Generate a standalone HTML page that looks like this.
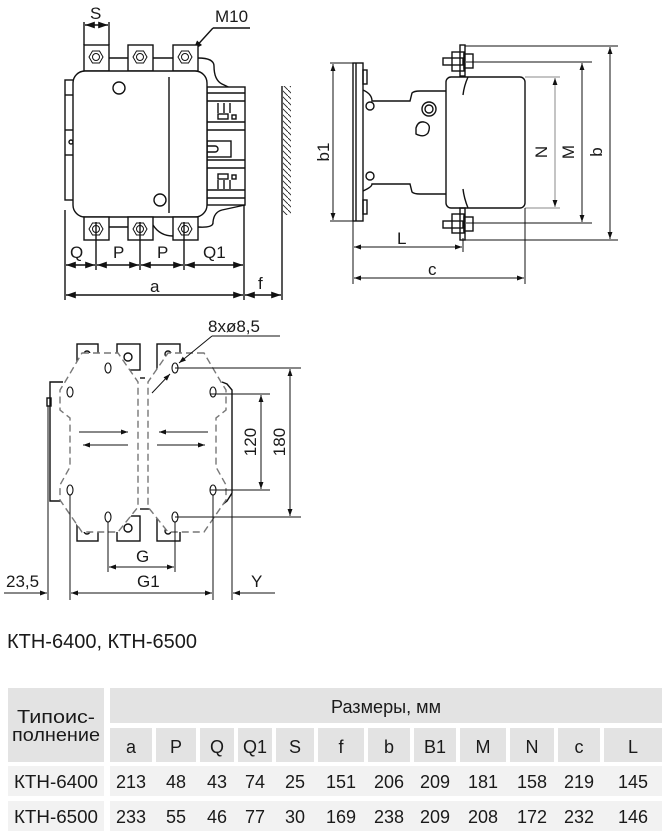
<!DOCTYPE html>
<html><head><meta charset="utf-8"><style>
html,body{margin:0;padding:0;background:#fff;width:664px;height:836px;overflow:hidden}
svg{display:block}
text{font-family:"Liberation Sans","DejaVu Sans",sans-serif;fill:#1a1a1a}
</style></head><body>
<svg width="664" height="836" viewBox="0 0 664 836" xmlns="http://www.w3.org/2000/svg">
<defs>
<marker id="ar" viewBox="0 0 10 10" refX="10" refY="5" markerWidth="7" markerHeight="7" orient="auto-start-reverse"><path d="M0,1.5 L10,5 L0,8.5 Z" fill="#111"/></marker>
<pattern id="hatch" width="6" height="6" patternUnits="userSpaceOnUse"><path d="M0,0 L6,6" stroke="#222" stroke-width="0.9"/></pattern>
</defs>
<g fill="none" stroke="#111" stroke-width="1.4">
<!-- ===== TOP LEFT VIEW ===== -->
<line x1="84" y1="22" x2="84" y2="45"/><line x1="109" y1="22" x2="109" y2="45"/>
<line x1="85" y1="25" x2="108" y2="25" marker-start="url(#ar)" marker-end="url(#ar)"/>
<line x1="250" y1="28" x2="213" y2="28"/><line x1="213" y1="28" x2="193" y2="50" marker-end="url(#ar)"/>
<line x1="109" y1="58" x2="128" y2="58"/><line x1="153" y1="58" x2="173" y2="58"/>
<line x1="109" y1="227" x2="128" y2="227"/>
<path d="M198,58 Q214,58 214,66 Q214,80 222,84 L245,95"/>
<path d="M198,227 Q214,228 213,222 Q214,212 222,210 L245,205"/>
<path d="M153,225 Q160,236 173,236"/>
<rect x="84" y="45" width="25" height="26" fill="#fff"/>
<rect x="128" y="45" width="25" height="26" fill="#fff"/>
<rect x="173" y="45" width="25" height="26" fill="#fff"/>
<rect x="65" y="80" width="10" height="120" fill="#fff"/>
<line x1="65" y1="95" x2="75" y2="95"/><line x1="65" y1="130" x2="75" y2="130"/><line x1="65" y1="155" x2="75" y2="155"/>
<circle cx="71" cy="142" r="2"/>
<rect x="207" y="87" width="38" height="118" fill="#fff"/>
<line x1="207" y1="93" x2="245" y2="93"/><line x1="207" y1="101" x2="245" y2="101"/>
<line x1="207" y1="122" x2="245" y2="122"/><line x1="207" y1="130" x2="245" y2="130"/>
<line x1="207" y1="160" x2="245" y2="160"/><line x1="207" y1="168" x2="245" y2="168"/>
<line x1="207" y1="190" x2="245" y2="190"/><line x1="207" y1="198" x2="245" y2="198"/>
<rect x="207" y="141" width="24" height="16"/>
<path d="M207,146 h8 a3,3 0 0 1 0,6 h-8"/>
<rect x="218" y="114" width="10" height="5"/><rect x="232" y="115" width="4" height="4"/>
<rect x="218" y="174" width="10" height="5"/><rect x="232" y="175" width="4" height="4"/>
<line x1="218" y1="103" x2="218" y2="113"/><line x1="224" y1="103" x2="224" y2="113"/><line x1="230" y1="103" x2="230" y2="113"/>
<line x1="218" y1="180" x2="218" y2="189"/><line x1="224" y1="180" x2="224" y2="189"/><line x1="230" y1="180" x2="230" y2="189"/>
<rect x="73" y="71" width="134" height="146" rx="12" fill="#fff"/>
<circle cx="119" cy="88" r="6"/><circle cx="160" cy="200" r="6"/>
<line x1="169" y1="77" x2="169" y2="213"/>
<rect x="84" y="217" width="25" height="23" fill="#fff"/>
<rect x="128" y="217" width="25" height="23" fill="#fff"/>
<rect x="173" y="217" width="25" height="23" fill="#fff"/>
<g stroke-width="1">
<polygon points="89,57 92.5,51 99.5,51 103,57 99.5,63 92.5,63"/><circle cx="96" cy="57" r="3.5"/>
<polygon points="133,57 136.5,51 143.5,51 147,57 143.5,63 136.5,63"/><circle cx="140" cy="57" r="3.5"/>
<polygon points="178,57 181.5,51 188.5,51 192,57 188.5,63 181.5,63"/><circle cx="185" cy="57" r="3.5"/>
<polygon points="89,229 92.5,223 99.5,223 103,229 99.5,235 92.5,235"/><circle cx="96" cy="229" r="3.5"/>
<polygon points="133,229 136.5,223 143.5,223 147,229 143.5,235 136.5,235"/><circle cx="140" cy="229" r="3.5"/>
<polygon points="178,229 181.5,223 188.5,223 192,229 188.5,235 181.5,235"/><circle cx="185" cy="229" r="3.5"/>
</g>
<rect x="283" y="86" width="8" height="129" fill="url(#hatch)" stroke="none"/>
<line x1="282" y1="86" x2="282" y2="300"/>
<line x1="96" y1="222" x2="96" y2="270"/><line x1="140" y1="222" x2="140" y2="270"/><line x1="184" y1="222" x2="184" y2="270"/>
<line x1="65" y1="210" x2="65" y2="300"/><line x1="244" y1="205" x2="244" y2="300"/>
<line x1="66" y1="265" x2="95" y2="265" marker-start="url(#ar)" marker-end="url(#ar)"/>
<line x1="97" y1="265" x2="139" y2="265" marker-start="url(#ar)" marker-end="url(#ar)"/>
<line x1="141" y1="265" x2="183" y2="265" marker-start="url(#ar)" marker-end="url(#ar)"/>
<line x1="185" y1="265" x2="243" y2="265" marker-start="url(#ar)" marker-end="url(#ar)"/>
<line x1="66" y1="295" x2="243" y2="295" marker-start="url(#ar)" marker-end="url(#ar)"/>
<line x1="245" y1="295" x2="281" y2="295" marker-start="url(#ar)" marker-end="url(#ar)"/>

<!-- ===== TOP RIGHT VIEW ===== -->
<path d="M363,90 Q372,94 372,101 L410,101 L412,93 Q414,91 420,91 L446,91"/>
<path d="M363,191 Q372,187 372,184 L410,184 L412,192 Q414,194 420,194 L446,194"/>
<circle cx="370" cy="106" r="4"/><circle cx="370" cy="176" r="4"/>
<circle cx="429" cy="109" r="7"/><circle cx="429" cy="109" r="4"/>
<path d="M416,128 Q418,121 424,122 Q432,124 428,133 Q424,138 416,134 Z"/>
<rect x="353" y="63" width="10" height="158" fill="#fff"/>
<line x1="356" y1="63" x2="356" y2="221"/>
<rect x="363" y="70" width="4" height="14"/><rect x="363" y="200" width="4" height="14"/>
<rect x="446" y="77" width="79" height="131" rx="5" fill="#fff"/>
<path d="M468,77 Q464,86 463,95"/><path d="M468,208 Q464,198 463,189"/>
<rect x="443" y="58" width="20" height="7"/><rect x="452" y="52" width="12" height="19"/><rect x="460" y="45" width="5" height="31"/><rect x="464" y="54" width="9" height="14"/>
<rect x="443" y="221" width="20" height="7"/><rect x="452" y="214" width="12" height="19"/><rect x="460" y="208" width="5" height="32"/><rect x="464" y="217" width="9" height="14"/>
<g stroke-width="1">
<line x1="330" y1="63" x2="355" y2="63"/><line x1="330" y1="221" x2="355" y2="221"/>
<line x1="333" y1="64" x2="333" y2="220" marker-start="url(#ar)" marker-end="url(#ar)"/>
<line x1="525" y1="77" x2="560" y2="77" stroke="#888"/><line x1="525" y1="208" x2="560" y2="208" stroke="#888"/>
<line x1="555" y1="78" x2="555" y2="207" stroke="#888" marker-start="url(#ar)" marker-end="url(#ar)"/>
<line x1="466" y1="62" x2="592" y2="62"/><line x1="466" y1="223" x2="592" y2="223"/>
<line x1="582" y1="63" x2="582" y2="222" marker-start="url(#ar)" marker-end="url(#ar)"/>
<line x1="465" y1="46" x2="618" y2="46"/><line x1="465" y1="240" x2="618" y2="240"/>
<line x1="610" y1="47" x2="610" y2="239" marker-start="url(#ar)" marker-end="url(#ar)"/>
<line x1="353" y1="221" x2="353" y2="284"/><line x1="463" y1="238" x2="463" y2="252"/><line x1="525" y1="208" x2="525" y2="284"/>
<line x1="354" y1="247" x2="462" y2="247" marker-start="url(#ar)" marker-end="url(#ar)"/>
<line x1="354" y1="278" x2="524" y2="278" marker-start="url(#ar)" marker-end="url(#ar)"/>
</g>

<!-- ===== BOTTOM VIEW ===== -->
<rect x="77" y="344" width="21" height="26"/>
<rect x="117" y="344" width="23" height="26"/>
<rect x="157" y="344" width="23" height="26"/>
<circle cx="87" cy="354" r="3"/><circle cx="128" cy="357" r="4"/><circle cx="168" cy="354" r="3"/>
<path d="M140,378 L145,378"/>
<rect x="77" y="516" width="21" height="25"/>
<rect x="117" y="516" width="23" height="25"/>
<rect x="157" y="516" width="23" height="25"/>
<circle cx="87" cy="531" r="3"/><circle cx="128" cy="528" r="4"/><circle cx="168" cy="531" r="3"/>
<path d="M140,509 L152,509"/>
<path d="M63,382 L50,382 L50,501 L63,501"/>
<rect x="47" y="398" width="4" height="8"/>
<path d="M222,382 L227,384 L232,390 L232,493 L227,501 L222,505"/>
<g stroke="#777" stroke-dasharray="7,4" fill="#fff">
<polygon points="82,353 118,353 138,382 138,507 118,532 82,532 60,500 60,485 70,467 70,418 60,410 60,390 65,382"/>
<polygon points="204,353 168,353 148,382 148,507 168,532 204,532 226,500 226,485 216,467 216,418 226,410 226,390 221,382"/>
</g>
<g stroke-width="1.1">
<ellipse cx="108" cy="368" rx="3" ry="5"/><ellipse cx="175" cy="368" rx="3" ry="5"/>
<ellipse cx="70" cy="392" rx="3" ry="5"/><ellipse cx="213" cy="392" rx="3" ry="5"/>
<ellipse cx="70" cy="490" rx="3" ry="5"/><ellipse cx="213" cy="490" rx="3" ry="5"/>
<ellipse cx="108" cy="517" rx="3" ry="5"/><ellipse cx="175" cy="517" rx="3" ry="5"/>
</g>
<g stroke-width="1">
<line x1="79" y1="432" x2="128" y2="432" marker-end="url(#ar)"/>
<line x1="128" y1="445" x2="83" y2="445" marker-end="url(#ar)"/>
<line x1="208" y1="432" x2="159" y2="432" marker-end="url(#ar)"/>
<line x1="157" y1="445" x2="205" y2="445" marker-end="url(#ar)"/>
<line x1="280" y1="336" x2="212" y2="336"/><line x1="212" y1="336" x2="179" y2="363" marker-end="url(#ar)"/>
<line x1="152" y1="393" x2="170" y2="374" marker-end="url(#ar)"/>
<line x1="175" y1="368" x2="301" y2="368"/><line x1="175" y1="517" x2="301" y2="517"/>
<line x1="210" y1="394" x2="270" y2="394"/><line x1="210" y1="490" x2="270" y2="490"/>
<line x1="261" y1="395" x2="261" y2="489" marker-start="url(#ar)" marker-end="url(#ar)"/>
<line x1="290" y1="369" x2="290" y2="516" marker-start="url(#ar)" marker-end="url(#ar)"/>
<line x1="108" y1="522" x2="108" y2="572"/><line x1="175" y1="522" x2="175" y2="572"/>
<line x1="109" y1="567" x2="174" y2="567" marker-start="url(#ar)" marker-end="url(#ar)"/>
<line x1="70" y1="495" x2="70" y2="600"/><line x1="213" y1="495" x2="213" y2="600"/>
<line x1="48" y1="406" x2="48" y2="600"/><line x1="232" y1="490" x2="232" y2="600"/>
<line x1="71" y1="593" x2="212" y2="593" marker-start="url(#ar)" marker-end="url(#ar)"/>
<line x1="4" y1="593" x2="47" y2="593" marker-end="url(#ar)"/>
<line x1="275" y1="593" x2="233" y2="593" marker-end="url(#ar)"/>
</g>
</g>

<g font-size="17">
<text x="90" y="19">S</text>
<text x="215" y="22">M10</text>
<text x="70" y="258">Q</text><text x="113" y="258">P</text><text x="157" y="258">P</text><text x="203" y="258">Q1</text>
<text x="150" y="292">a</text><text x="258" y="289">f</text>
<text x="397" y="244">L</text><text x="428" y="275">c</text>
<text transform="translate(329,152) rotate(-90)" text-anchor="middle">b1</text>
<text transform="translate(547,152) rotate(-90)" text-anchor="middle">N</text>
<text transform="translate(574,152) rotate(-90)" text-anchor="middle">M</text>
<text transform="translate(602,152) rotate(-90)" text-anchor="middle">b</text>
<text x="208" y="332">8xø8,5</text>
<text transform="translate(256,442) rotate(-90)" text-anchor="middle">120</text>
<text transform="translate(285,442) rotate(-90)" text-anchor="middle">180</text>
<text x="136" y="562">G</text><text x="137" y="587">G1</text>
<text x="6" y="587">23,5</text><text x="251" y="587">Y</text>
</g>
<text x="7" y="648" font-size="20" textLength="190" lengthAdjust="spacingAndGlyphs">КТН-6400, КТН-6500</text>

<g fill="#e3e3e3">
<rect x="8" y="688" width="96" height="74"/>
<rect x="110" y="688" width="552" height="35"/>
<rect x="110" y="728" width="42" height="34"/><rect x="156" y="728" width="40" height="34"/><rect x="200" y="728" width="34" height="34"/><rect x="238" y="728" width="34" height="34"/><rect x="276" y="728" width="38" height="34"/><rect x="318" y="728" width="46" height="34"/><rect x="368" y="728" width="42" height="34"/><rect x="414" y="728" width="42" height="34"/><rect x="460" y="728" width="46" height="34"/><rect x="510" y="728" width="44" height="34"/><rect x="558" y="728" width="42" height="34"/><rect x="604" y="728" width="58" height="34"/>
</g>
<g fill="#f2f2f2">
<rect x="8" y="766" width="96" height="30"/><rect x="110" y="766" width="552" height="30"/>
<rect x="8" y="801" width="96" height="30"/><rect x="110" y="801" width="552" height="30"/>
</g>
<g font-size="18" text-anchor="middle">
<text x="56" y="723" textLength="78" lengthAdjust="spacingAndGlyphs">Типоис-</text><text x="56" y="741" textLength="88" lengthAdjust="spacingAndGlyphs">полнение</text>
<text x="386" y="713" textLength="110" lengthAdjust="spacingAndGlyphs">Размеры, мм</text>
<g>
<text x="131" y="753">a</text><text x="176" y="753">P</text><text x="217" y="753">Q</text><text x="255" y="753">Q1</text><text x="295" y="753">S</text><text x="341" y="753">f</text><text x="389" y="753">b</text><text x="435" y="753">B1</text><text x="483" y="753">M</text><text x="532" y="753">N</text><text x="579" y="753">c</text><text x="633" y="753">L</text>
</g>
<g>
<text x="56" y="788" textLength="84" lengthAdjust="spacingAndGlyphs">КТН-6400</text><text x="131" y="788">213</text><text x="176" y="788">48</text><text x="217" y="788">43</text><text x="255" y="788">74</text><text x="295" y="788">25</text><text x="341" y="788">151</text><text x="389" y="788">206</text><text x="435" y="788">209</text><text x="483" y="788">181</text><text x="532" y="788">158</text><text x="579" y="788">219</text><text x="633" y="788">145</text>
</g>
<g>
<text x="56" y="823" textLength="84" lengthAdjust="spacingAndGlyphs">КТН-6500</text><text x="131" y="823">233</text><text x="176" y="823">55</text><text x="217" y="823">46</text><text x="255" y="823">77</text><text x="295" y="823">30</text><text x="341" y="823">169</text><text x="389" y="823">238</text><text x="435" y="823">209</text><text x="483" y="823">208</text><text x="532" y="823">172</text><text x="579" y="823">232</text><text x="633" y="823">146</text>
</g>
</g>
</svg>
</body></html>
